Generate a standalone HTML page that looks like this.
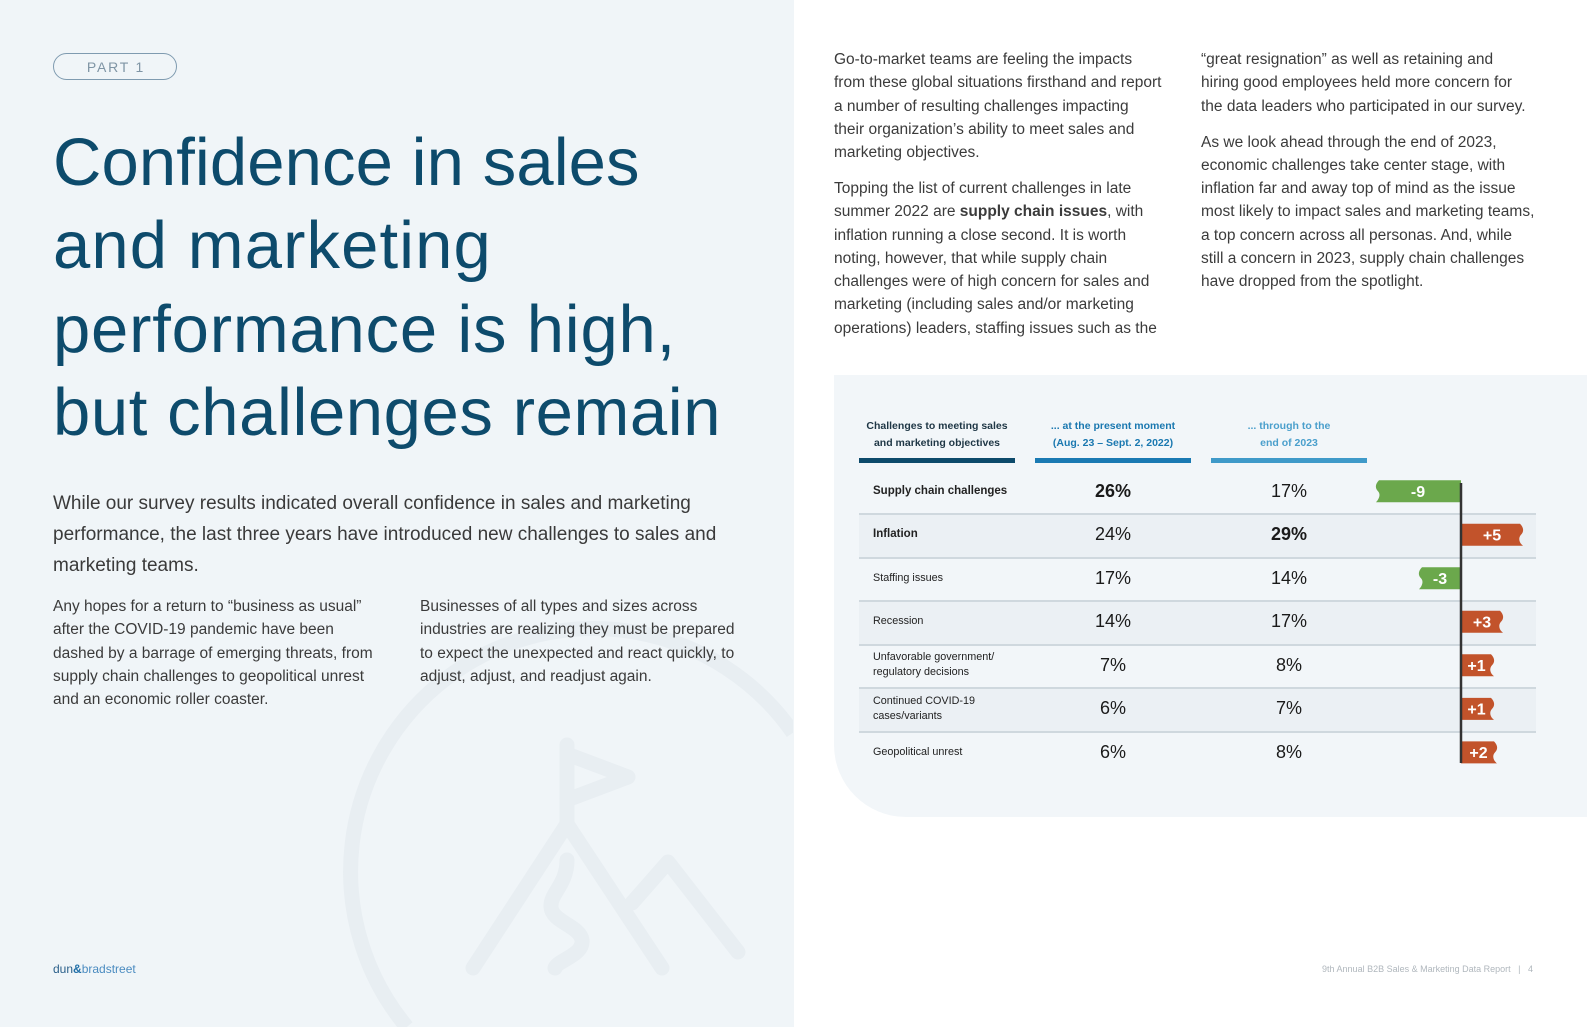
<!DOCTYPE html>
<html>
<head>
<meta charset="utf-8">
<style>
  html { margin:0; padding:0; width:1587px; height:1027px; overflow:hidden; }
  body { margin:0; padding:0; width:1587px; height:1027px; position:relative; overflow:hidden; background:#ffffff;
         font-family:"Liberation Sans", Arial, sans-serif; }
  .abs { position:absolute; white-space:nowrap; }
  .leftpage { position:absolute; left:0; top:0; width:793.5px; height:1027px; background:#f0f5f8; overflow:hidden; }
  .pill { position:absolute; left:53px; top:53px; width:124px; height:27px; box-sizing:border-box;
          border:1.5px solid #7f9bb0; border-radius:14px; display:flex; align-items:center; justify-content:center;
          font-size:14px; letter-spacing:1.8px; color:#7f95a5; padding-left:2px; }
  .title { position:absolute; left:53px; top:121px; font-size:67px; line-height:83.3px; color:#0d4b6c; white-space:nowrap; }
  .title div { height:83.3px; }
  .lead { position:absolute; left:53px; top:488px; font-size:19px; line-height:31px; color:#3a3a3a; white-space:nowrap; }
  .body { position:absolute; font-size:15.5px; line-height:23.3px; color:#3b3b3b; white-space:nowrap; }
  .rbody { position:absolute; font-size:15.5px; line-height:23.25px; color:#3b3b3b; white-space:nowrap; }
  .rbody p { margin:0; }
  .rbody p + p { margin-top:12.75px; }
  .panel { position:absolute; left:834px; top:375px; width:753px; height:442px; background:#f2f6f9; border-bottom-left-radius:72px; }
  .hdr { position:absolute; top:418px; width:156px; text-align:center; font-size:10.5px; line-height:17px; font-weight:bold; white-space:nowrap; }
  .hbar { position:absolute; top:458px; height:5px; }
  .row { position:absolute; left:859px; width:677px; height:43.55px; box-sizing:border-box; }
  .row.alt { background:#ebf0f4; }
  .row.line { border-top:2px solid #cfd8de; }
  .lbl { position:absolute; left:873px; width:160px; display:flex; align-items:center; font-size:10.8px; line-height:15px; color:#222; white-space:nowrap; }
  .lbl.b { font-weight:bold; font-size:11.5px; }
  .pct { position:absolute; width:120px; text-align:center; font-size:18px; color:#1a1a1a; display:flex; align-items:center; justify-content:center; }
  .pct.b { font-weight:bold; }
</style>
</head>
<body>

<div class="leftpage">
  <svg width="793" height="1027" viewBox="0 0 793 1027" style="position:absolute;left:0;top:0;display:block">
    <g fill="none" stroke="#e8eef2" stroke-width="15" stroke-linecap="round" stroke-linejoin="round">
      <path stroke-linecap="butt" d="M406.8,1027 A243,243 0 1,1 793,732.7"/>
      <path d="M567,745 L567,822"/>
      <path d="M567,754 L628,777 L567,800"/>
      <path d="M473,968 L567,824 L662,968"/>
      <path d="M632,903 L668,862 L738,952"/>
      <path d="M567,860 C567,885 550,893 551,907 C552,922 580,926 582,940 C584,955 558,960 555,968"/>
    </g>
  </svg>

  <div class="pill">PART 1</div>

  <div class="title">
    <div style="letter-spacing:0.1px">Confidence in sales</div>
    <div style="letter-spacing:1.1px">and marketing</div>
    <div style="letter-spacing:0.8px">performance is high,</div>
    <div style="letter-spacing:0.6px">but challenges remain</div>
  </div>

  <div class="lead">While our survey results indicated overall confidence in sales and marketing<br>performance, the last three years have introduced new challenges to sales and<br>marketing teams.</div>

  <div class="body" style="left:53px;top:595px;">Any hopes for a return to “business as usual”<br>after the COVID-19 pandemic have been<br>dashed by a barrage of emerging threats, from<br>supply chain challenges to geopolitical unrest<br>and an economic roller coaster.</div>

  <div class="body" style="left:420px;top:595px;">Businesses of all types and sizes across<br>industries are realizing they must be prepared<br>to expect the unexpected and react quickly, to<br>adjust, adjust, and readjust again.</div>

  <div class="abs" style="left:53px;top:962px;font-size:12px;line-height:14px;">
    <span style="color:#2a5f8a">dun</span><span style="color:#1f6fa8;font-weight:bold">&amp;</span><span style="color:#4a8bc0">bradstreet</span>
  </div>
</div>

<!-- Right page text -->
<div class="rbody" style="left:834px;top:48px;">
  <p>Go-to-market teams are feeling the impacts<br>from these global situations firsthand and report<br>a number of resulting challenges impacting<br>their organization’s ability to meet sales and<br>marketing objectives.</p>
  <p>Topping the list of current challenges in late<br>summer 2022 are <b>supply chain issues</b>, with<br>inflation running a close second. It is worth<br>noting, however, that while supply chain<br>challenges were of high concern for sales and<br>marketing (including sales and/or marketing<br>operations) leaders, staffing issues such as the</p>
</div>

<div class="rbody" style="left:1201px;top:48px;">
  <p>“great resignation” as well as retaining and<br>hiring good employees held more concern for<br>the data leaders who participated in our survey.</p>
  <p>As we look ahead through the end of 2023,<br>economic challenges take center stage, with<br>inflation far and away top of mind as the issue<br>most likely to impact sales and marketing teams,<br>a top concern across all personas. And, while<br>still a concern in 2023, supply chain challenges<br>have dropped from the spotlight.</p>
</div>

<!-- Table panel -->
<div class="panel"></div>

<div class="hdr" style="left:859px;color:#1e3645;">Challenges to meeting sales<br>and marketing objectives</div>
<div class="hdr" style="left:1035px;color:#1a78b0;">... at the present moment<br>(Aug. 23 – Sept. 2, 2022)</div>
<div class="hdr" style="left:1211px;color:#4a9fcc;">... through to the<br>end of 2023</div>

<div class="hbar" style="left:859px;width:156px;background:#0d4a6b;"></div>
<div class="hbar" style="left:1035px;width:156px;background:#1a7ab3;"></div>
<div class="hbar" style="left:1211px;width:156px;background:#3f9ac9;"></div>

<!-- rows -->
<div class="row" style="top:469.5px;"></div>
<div class="row alt line" style="top:513px;"></div>
<div class="row line" style="top:556.6px;"></div>
<div class="row alt line" style="top:600.1px;"></div>
<div class="row line" style="top:643.6px;"></div>
<div class="row alt line" style="top:687.2px;"></div>
<div class="row line" style="top:730.7px;"></div>

<!-- labels -->
<div class="lbl b" style="top:469.5px;height:43.55px;">Supply chain challenges</div>
<div class="lbl b" style="top:513px;height:43.55px;">Inflation</div>
<div class="lbl" style="top:556.6px;height:43.55px;">Staffing issues</div>
<div class="lbl" style="top:600.1px;height:43.55px;">Recession</div>
<div class="lbl" style="top:643.6px;height:43.55px;">Unfavorable government/<br>regulatory decisions</div>
<div class="lbl" style="top:687.2px;height:43.55px;">Continued COVID-19<br>cases/variants</div>
<div class="lbl" style="top:730.7px;height:43.55px;">Geopolitical unrest</div>

<!-- percentages col 2 -->
<div class="pct b" style="left:1053px;top:469.5px;height:43.55px;">26%</div>
<div class="pct" style="left:1053px;top:513px;height:43.55px;">24%</div>
<div class="pct" style="left:1053px;top:556.6px;height:43.55px;">17%</div>
<div class="pct" style="left:1053px;top:600.1px;height:43.55px;">14%</div>
<div class="pct" style="left:1053px;top:643.6px;height:43.55px;">7%</div>
<div class="pct" style="left:1053px;top:687.2px;height:43.55px;">6%</div>
<div class="pct" style="left:1053px;top:730.7px;height:43.55px;">6%</div>

<!-- percentages col 3 -->
<div class="pct" style="left:1229px;top:469.5px;height:43.55px;">17%</div>
<div class="pct b" style="left:1229px;top:513px;height:43.55px;">29%</div>
<div class="pct" style="left:1229px;top:556.6px;height:43.55px;">14%</div>
<div class="pct" style="left:1229px;top:600.1px;height:43.55px;">17%</div>
<div class="pct" style="left:1229px;top:643.6px;height:43.55px;">8%</div>
<div class="pct" style="left:1229px;top:687.2px;height:43.55px;">7%</div>
<div class="pct" style="left:1229px;top:730.7px;height:43.55px;">8%</div>

<!-- bars -->
<svg width="1587" height="1027" style="position:absolute;left:0;top:0;display:block">
  <g font-family="Liberation Sans, Arial, sans-serif" font-weight="bold" font-size="16" fill="#ffffff" text-anchor="middle">
    <path fill="#6ba84c" d="M1461,480.2 H1379 C1375,484.2 1375,488.2 1378,491.2 C1381,494.2 1379,499.2 1376,502.2 H1461 Z"/>
    <text x="1418" y="497">-9</text>
    <path fill="#c2532b" d="M1461,523.8 H1520 C1524,527.8 1524,531.8 1521,534.8 C1518,537.8 1519,542.8 1523,545.8 H1461 Z"/>
    <text x="1492" y="540.6">+5</text>
    <path fill="#6ba84c" d="M1461,567.3 H1422 C1418,571.3 1418,575.3 1421,578.3 C1424,581.3 1422,586.3 1419,589.3 H1461 Z"/>
    <text x="1440" y="584.1">-3</text>
    <path fill="#c2532b" d="M1461,610.8 H1500 C1504,614.8 1504,618.8 1501,621.8 C1498,624.8 1499,629.8 1503,632.8 H1461 Z"/>
    <text x="1482" y="627.6">+3</text>
    <path fill="#c2532b" d="M1461,654.3 H1491 C1495,658.3 1495,662.3 1492,665.3 C1489,668.3 1490,673.3 1494,676.3 H1461 Z"/>
    <text x="1476.5" y="671.1">+1</text>
    <path fill="#c2532b" d="M1461,697.9 H1491 C1495,701.9 1495,705.9 1492,708.9 C1489,711.9 1490,716.9 1494,719.9 H1461 Z"/>
    <text x="1476.5" y="714.7">+1</text>
    <path fill="#c2532b" d="M1461,741.4 H1494 C1498,745.4 1498,749.4 1495,752.4 C1492,755.4 1493,760.4 1497,763.4 H1461 Z"/>
    <text x="1478.5" y="758.2">+2</text>
  </g>
  <line x1="1461" y1="483" x2="1461" y2="763" stroke="#333333" stroke-width="2.5"/>
</svg>

<!-- footer right -->
<div class="abs" style="right:54px;top:963px;font-size:9px;line-height:12px;color:#b0b7bd;">9th Annual B2B Sales &amp; Marketing Data Report&nbsp;&nbsp;&nbsp;|&nbsp;&nbsp;&nbsp;4</div>

</body>
</html>
